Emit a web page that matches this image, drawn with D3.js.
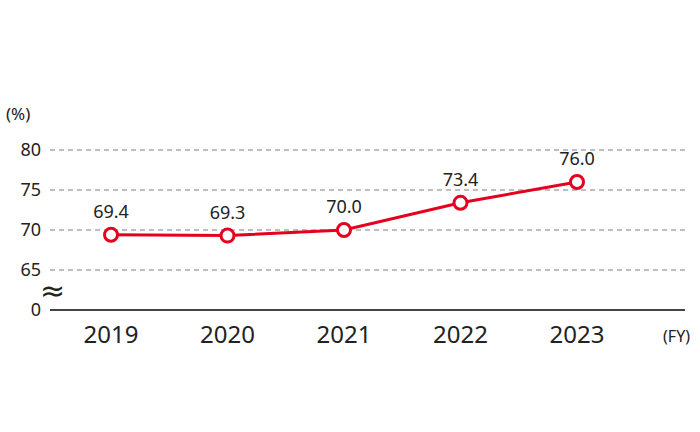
<!DOCTYPE html>
<html><head><meta charset="utf-8">
<script src="https://cdn.jsdelivr.net/npm/d3@7"></script>
<style>body{margin:0;background:#fff}text{font-family:"Noto Sans",sans-serif;fill:#222}</style>
</head><body><svg id="c" width="700" height="432"></svg>
<script>
var years = ['2019', '2020', '2021', '2022', '2023'];
var values = [69.4, 69.3, 70.0, 73.4, 76.0];
var yTicks = [65, 70, 75, 80];

var svg = d3.select('#c');
var x = d3.scalePoint().domain(years).range([111, 577]);
var y = d3.scaleLinear().domain([60, 80]).range([310, 150]);

svg.selectAll('line.grid').data(yTicks).enter().append('line')
    .attr('x1', 50).attr('x2', 685)
    .attr('y1', function(d){return y(d);}).attr('y2', function(d){return y(d);})
    .attr('stroke', '#aaa').attr('stroke-width', 1.3).attr('stroke-dasharray', '5,4');

svg.selectAll('text.yt').data(yTicks.concat([0])).enter().append('text')
    .attr('x', 41).attr('y', function(d){return d == 0 ? y(60) : y(d);})
    .attr('dy', '0.35em').attr('text-anchor', 'end').style('font-size', '18px')
    .text(function(d){return d;});

svg.append('text').attr('x', 6).attr('y', 120).style('font-size', '17px').text('(%)');
svg.append('text').attr('x', 40).attr('y', 301).style('font-size', '30px')
    .style('font-family', 'DejaVu Sans').text('≈');

svg.append('line').attr('x1', 50).attr('x2', 685).attr('y1', 310).attr('y2', 310)
    .attr('stroke', '#444').attr('stroke-width', 2);

svg.selectAll('text.xt').data(years).enter().append('text')
    .attr('x', function(d){return x(d);}).attr('y', 343).attr('text-anchor', 'middle')
    .style('font-size', '24px').text(function(d){return d;});
svg.append('text').attr('x', 690).attr('y', 342).attr('text-anchor', 'end')
    .style('font-size', '16px').text('(FY)');

var line = d3.line().x(function(d, i){return x(years[i]);}).y(function(d){return y(d);});
svg.append('path').datum(values).attr('d', line).attr('fill', 'none')
    .attr('stroke', '#e60020').attr('stroke-width', 3);

svg.selectAll('circle').data(values).enter().append('circle')
    .attr('cx', function(d, i){return x(years[i]);}).attr('cy', function(d){return y(d);})
    .attr('r', 6.5).attr('fill', '#fff').attr('stroke', '#e60020').attr('stroke-width', 3);

svg.selectAll('text.v').data(values).enter().append('text')
    .attr('x', function(d, i){return x(years[i]);}).attr('y', function(d){return y(d) - 17;})
    .attr('text-anchor', 'middle').style('font-size', '18px')
    .text(function(d){return d.toFixed(1);});
</script></body></html>
